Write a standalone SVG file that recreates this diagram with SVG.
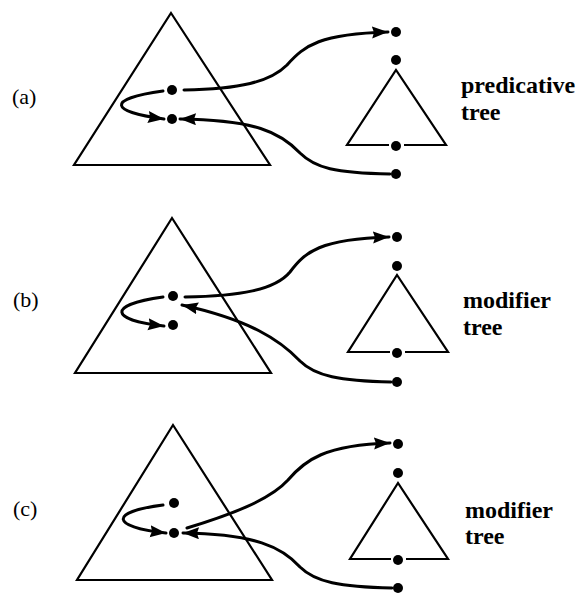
<svg xmlns="http://www.w3.org/2000/svg" width="587" height="593" viewBox="0 0 587 593">
<style>
.tri{fill:none;stroke:#000;stroke-width:2.2;stroke-linejoin:miter}
.dot{fill:#000}
.con{fill:none;stroke:#000;stroke-width:3;stroke-linecap:round}
.lbl{font-size:22px;fill:#000}
.name{font-size:24px;font-weight:bold;fill:#000}
</style>
<defs>
<marker id="ah" markerUnits="userSpaceOnUse" markerWidth="20" markerHeight="14" refX="16" refY="6" orient="auto">
<path d="M0,0 L16,6 L0,12 L2,6 z" fill="#000"/>
</marker>
</defs>
<rect width="587" height="593" fill="#fff"/>

<!-- panel (a) -->
<g id="label-a"><text class="lbl" font-family="Liberation Serif, DejaVu Serif, serif" x="12" y="104">(a)</text></g>
<g id="big-tree-a">
<polygon class="tri" points="171,13 270,165 74,165"/>
<circle class="dot" cx="172" cy="90" r="5"/>
<circle class="dot" cx="172" cy="119" r="5"/>
</g>
<g id="small-tree-a">
<circle class="dot" cx="396" cy="32" r="5"/>
<circle class="dot" cx="396" cy="60" r="5"/>
<polyline class="tri" points="389,145 347,145 396,70 446,145 404,145"/>
<circle class="dot" cx="396" cy="146" r="5"/>
<circle class="dot" cx="396" cy="174" r="5"/>
<text class="name" font-family="Liberation Serif, DejaVu Serif, serif" x="461" y="93">predicative</text>
<text class="name" font-family="Liberation Serif, DejaVu Serif, serif" x="461" y="120">tree</text>
</g>

<!-- panel (b) -->
<g id="label-b"><text class="lbl" font-family="Liberation Serif, DejaVu Serif, serif" x="13" y="307">(b)</text></g>
<g id="big-tree-b">
<polygon class="tri" points="172,218 271,373 75,373"/>
<circle class="dot" cx="173" cy="296" r="5"/>
<circle class="dot" cx="173" cy="325" r="5"/>
</g>
<g id="small-tree-b">
<circle class="dot" cx="397" cy="237" r="5"/>
<circle class="dot" cx="397" cy="266" r="5"/>
<polyline class="tri" points="390,352 348,352 397,275 448,352 405,352"/>
<circle class="dot" cx="397" cy="353" r="5"/>
<circle class="dot" cx="397" cy="382" r="5"/>
<text class="name" font-family="Liberation Serif, DejaVu Serif, serif" x="463" y="308">modifier</text>
<text class="name" font-family="Liberation Serif, DejaVu Serif, serif" x="463" y="335">tree</text>
</g>

<!-- panel (c) -->
<g id="label-c"><text class="lbl" font-family="Liberation Serif, DejaVu Serif, serif" x="13" y="516">(c)</text></g>
<g id="big-tree-c">
<polygon class="tri" points="173,425 272,580 77,580"/>
<circle class="dot" cx="174" cy="503" r="5"/>
<circle class="dot" cx="174" cy="533" r="5"/>
</g>
<g id="small-tree-c">
<circle class="dot" cx="398" cy="444" r="5"/>
<circle class="dot" cx="398" cy="473" r="5"/>
<polyline class="tri" points="391,559 350,559 398,483 448,559 406,559"/>
<circle class="dot" cx="398" cy="560" r="5"/>
<circle class="dot" cx="398" cy="588" r="5"/>
<text class="name" font-family="Liberation Serif, DejaVu Serif, serif" x="465" y="518">modifier</text>
<text class="name" font-family="Liberation Serif, DejaVu Serif, serif" x="465" y="544">tree</text>
</g>

<g id="connectors">
<!-- (a) -->
<path class="con" marker-end="url(#ah)" d="M184,90 C240,89 270,82 287,65 C305,45 320,34 388,32"/>
<path class="con" marker-end="url(#ah)" d="M163,91 C105,99 110,112 164,119"/>
<path class="con" marker-end="url(#ah)" d="M390,174 C335,173 315,168 300,153 C280,132 255,120 180,119"/>
<!-- (b) -->
<path class="con" marker-end="url(#ah)" d="M185,297 C240,296 275,290 290,272 C305,252 320,239 389,237"/>
<path class="con" marker-end="url(#ah)" d="M163,297 C106,305 110,320 164,326"/>
<path class="con" marker-end="url(#ah)" d="M391,382 C340,381 315,376 300,361 C280,340 250,320 182,305"/>
<!-- (c) -->
<path class="con" marker-end="url(#ah)" d="M187,528 C230,515 270,500 288,480 C305,460 325,445 390,443"/>
<path class="con" marker-end="url(#ah)" d="M163,505 C108,512 111,527 166,533"/>
<path class="con" marker-end="url(#ah)" d="M392,588 C340,587 315,582 300,567 C282,547 255,534 183,533"/>
</g>
</svg>
